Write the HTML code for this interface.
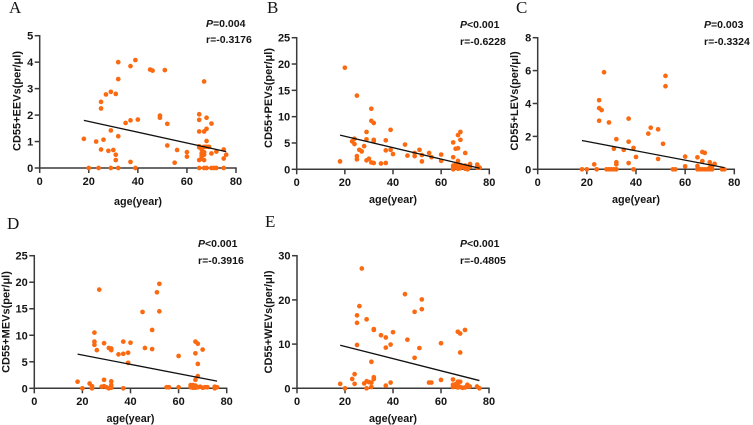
<!DOCTYPE html>
<html lang="en">
<head>
<meta charset="utf-8">
<title>CD55+ EVs versus age</title>
<style>
html,body{margin:0;padding:0;background:#fff;width:753px;height:425px;overflow:hidden}
svg{display:block}
text{font-family:"Liberation Sans",Arial,sans-serif;font-weight:700;fill:#151515}
.letter{font-family:"Liberation Serif",serif;font-weight:400;font-size:17px}
.tick{font-size:11px}
.xtitle{font-size:10.8px}
.ytitle{font-size:11px}
.stat{font-size:10.5px}
</style>
</head>
<body>
<svg id="chart" width="753" height="425" viewBox="0 0 753 425" xmlns="http://www.w3.org/2000/svg"></svg>
<script>
const xTickLabels = [0, 20, 40, 60, 80];

const ticksA = [0, 1, 2, 3, 4, 5];
const ageA = [18,20,23,24,25,25,25,26,27,28,29,29,29,30,31,31,31,32,32,32,32,35,37,37,37,39,39,40,45,46,49,49,51,52,52,55,56,60,60,65,65,65,65,65,65,65,66,66,66,66,67,67,67,67,67,67,67,68,68,68,68,68,69,70,70,70,71,72,72,75,75,75,76];
const valA = [1.1,0,1.0,0,0.7,2.25,2.5,1.07,2.78,0.65,2.88,1.42,0,0.68,2.8,0.5,0.3,4.0,3.36,1.2,0,1.7,3.85,1.8,0.23,4.08,0,1.83,3.72,3.68,1.98,1.9,3.7,1.67,0.85,0.2,0.68,0.6,0.43,2.03,1.82,1.38,0.82,0.78,0.3,0,0.7,0.55,0.45,0.35,3.27,1.38,0.8,0.6,0.5,0.3,0,1.9,1.48,1.02,0.8,0,0.8,1.68,0.55,0,0,0.62,0,0.7,0.36,0,0.5];
const fitAgeA = [18, 76];
const fitValA = [1.8, 0.62];

const ticksB = [0, 5, 10, 15, 20, 25];
const ageB = [18,20,23,24,24,25,25,25,26,27,28,29,29,29,30,31,31,31,32,32,32,32,35,37,37,37,39,39,40,45,46,49,49,51,52,52,55,56,60,60,65,65,65,65,65,66,66,66,67,67,67,67,67,67,68,68,68,68,69,70,70,70,71,71,72,72,75,75,76];
const valB = [1.5,19.3,5.3,5.8,4.8,14,2.5,1.9,3.7,3.4,4.4,7.1,5.7,1.7,2,11.5,9.2,1.3,8.8,5.6,5.3,1.2,1.1,5.5,3.6,1.2,7.5,3.7,2.9,4.7,2.6,3.1,2.5,3.7,2.7,1.5,3.1,2.3,2.8,1.6,5.1,2.3,0.7,0.4,0,3.9,0.9,0.5,6.5,4,1.6,1,0.5,0.1,7.1,5.6,0.8,0.2,0.5,3.1,0.7,0.1,0.5,0,1,0.5,0.9,0.3,0.3];
const fitAgeB = [18, 76];
const fitValB = [6.5, 0.2];

const ticksC = [0, 2, 4, 6, 8];
const ageC = [18,20,23,24,25,25,25,26,27,28,29,29,30,31,31,32,32,32,32,35,37,37,37,39,39,40,45,46,49,49,51,52,52,55,56,60,60,65,65,65,66,67,67,67,68,68,69,70,70,70,71,71,72,75,76];
const valC = [0,0,0.3,0,4.2,3.72,2.95,3.6,5.9,0,2.85,0,0,1.25,0,1.83,0.43,0.3,0,1.18,3.08,1.68,0.38,1.3,0,0.75,2.17,2.53,2.43,0.63,1.55,5.68,5.05,0,0,0.77,0.18,0.73,0.2,0,0,1.05,0.5,0,1.0,0,0,0.43,0.1,0,0.2,0,0.33,0,0];
const fitAgeC = [18, 76];
const fitValC = [1.75, 0.1];

const ticksD = [0, 5, 10, 15, 20, 25];
const ageD = [18,20,23,24,24,25,25,25,26,27,28,29,29,29,30,31,31,32,32,32,32,32,35,37,37,37,39,39,40,45,46,49,49,51,52,52,55,56,60,60,65,65,66,66,67,67,67,67,67,68,68,68,68,69,70,70,71,72,75,75,76];
const valD = [1.25,0,0.9,0.4,0,10.5,8.8,8.2,7.2,18.6,0.3,8.5,1.6,0.4,0.2,7.6,0,7.5,7.2,1.3,0.6,0.1,6.4,8.8,6.5,0,6.7,4.8,8.6,14.4,7.6,11,7.4,18.1,19.7,14.5,0.2,0.2,6.1,0.2,0.6,0.2,0.6,0.1,8.8,6.6,1.6,0.5,0.1,8.4,4.6,2.3,0.2,0.3,7.3,0.1,0.2,0.2,0.3,0,0.2];
const fitAgeD = [18, 76];
const fitValD = [6.45, 1.35];

const ticksE = [0, 10, 20, 30];
const ageE = [18,20,23,24,24,25,25,25,26,27,28,29,29,29,30,31,31,31,32,32,32,32,35,37,37,37,39,39,40,45,46,49,49,51,52,52,55,56,60,60,65,65,65,66,66,67,67,67,67,68,68,68,68,69,70,70,71,71,72,75,76];
const valE = [1,0,2.1,3.2,1,16.5,14.8,9.8,18.6,27.1,1.1,15.6,1.6,0,1.4,6,1.3,0.3,13.4,13.2,2.5,2.1,12,11.5,9.2,0.6,9.9,1.3,12.7,21.3,11,17.3,6.9,9.1,20.1,17.9,1.3,1.3,10.2,1.9,2,0.8,0.3,0.9,0.4,12.8,1.5,0.7,0.2,12.4,8.1,1.5,0.3,0.1,13.2,0.2,0.8,0.4,0.4,0.4,0];
const fitAgeE = [18, 76];
const fitValE = [9.75, 1.75];

const NS = 'http://www.w3.org/2000/svg';
const root = document.getElementById('chart');

function add(parent, tag, attrs, text) {
  const el = document.createElementNS(NS, tag);
  for (const k in attrs) el.setAttribute(k, attrs[k]);
  if (text !== undefined) el.textContent = text;
  parent.appendChild(el);
  return el;
}

function drawPanel(o) {
  const g = add(root, 'g', {});
  
  
  const yMax = o.yTicks[o.yTicks.length - 1];
  const xMax = xTickLabels[xTickLabels.length - 1];
  const sx = v => o.x0 + (v / xMax) * (o.x1 - o.x0);
  const sy = v => o.y0 - (v / yMax) * (o.y0 - o.y1);

  const letter = add(g, 'text', {class: 'letter', x: o.lx, y: o.ly}, o.letter);
  
  

  const xAxis = add(g, 'g', {});
  
  
  add(xAxis, 'line', {x1: o.x0 - 0.7, y1: o.y0, x2: o.x1 + 0.7, y2: o.y0, stroke: '#3a3a3a', 'stroke-width': 1.5});
  xTickLabels.forEach(t => {
    add(xAxis, 'line', {x1: sx(t), y1: o.y0, x2: sx(t), y2: o.y0 + 5, stroke: '#3a3a3a', 'stroke-width': 1.5});
    const lab = add(xAxis, 'text', {class: 'tick', x: sx(t), y: o.y0 + 16.8, 'text-anchor': 'middle'}, t);
    
    
  });

  const yAxis = add(g, 'g', {});
  
  
  add(yAxis, 'line', {x1: o.x0, y1: o.y0, x2: o.x0, y2: o.y1 - 0.7, stroke: '#3a3a3a', 'stroke-width': 1.5});
  o.yTicks.forEach(t => {
    add(yAxis, 'line', {x1: o.x0 - 5, y1: sy(t), x2: o.x0, y2: sy(t), stroke: '#3a3a3a', 'stroke-width': 1.5});
    const lab = add(yAxis, 'text', {class: 'tick', x: o.x0 - 6.5, y: sy(t) + 4, 'text-anchor': 'end'}, t);
    
    
  });

  const pts = add(g, 'g', {});
  
  
  o.age.forEach((a, i) => {
    const c = add(pts, 'circle', {cx: sx(a), cy: sy(o.val[i]), r: 2.35, fill: '#fb6a10'});
    
    
  });

  const fit = add(g, 'line', {x1: sx(o.fitAge[0]), y1: sy(o.fitVal[0]), x2: sx(o.fitAge[1]), y2: sy(o.fitVal[1]), stroke: '#111', 'stroke-width': 1.3});
  
  

  const xt = add(g, 'text', {class: 'xtitle', x: o.xtx, y: o.xty, 'text-anchor': 'middle'}, 'age(year)');
  
  

  const yt = add(g, 'text', {class: 'ytitle', 'text-anchor': 'middle', transform: 'translate(' + o.ytx + ',' + o.yty + ') rotate(-90)'}, o.yTitle);
  
  

  const p = add(g, 'text', {class: 'stat', x: o.sx, y: o.py});
  
  
  add(p, 'tspan', {'font-style': 'italic'}, 'P');
  add(p, 'tspan', {}, o.p);

  const r = add(g, 'text', {class: 'stat', x: o.sx, y: o.ry}, o.r);
  
  
}

drawPanel({letter:'A', lx:9, ly:13, x0:39.7, x1:236, y0:168, y1:35.7, yTicks:ticksA, age:ageA, val:valA, fitAge:fitAgeA, fitVal:fitValA, yTitle:'CD55+EEVs(per/μl)', xtx:138, xty:205, ytx:20.5, yty:101, sx:206, py:27, ry:43, p:'=0.004', r:'r=-0.3176'});
drawPanel({letter:'B', lx:267, ly:13, x0:296.7, x1:489.3, y0:169.3, y1:37.7, yTicks:ticksB, age:ageB, val:valB, fitAge:fitAgeB, fitVal:fitValB, yTitle:'CD55+PEVs(per/μl)', xtx:393, xty:203, ytx:272, yty:98, sx:460, py:28, ry:45, p:'<0.001', r:'r=-0.6228'});
drawPanel({letter:'C', lx:516, ly:13, x0:537.7, x1:734.3, y0:169.3, y1:37.7, yTicks:ticksC, age:ageC, val:valC, fitAge:fitAgeC, fitVal:fitValC, yTitle:'CD55+LEVs(per/μl)', xtx:636, xty:203, ytx:518, yty:101, sx:704, py:28, ry:45, p:'=0.003', r:'r=-0.3324'});
drawPanel({letter:'D', lx:7, ly:229, x0:34.3, x1:226.7, y0:388.3, y1:255.7, yTicks:ticksD, age:ageD, val:valD, fitAge:fitAgeD, fitVal:fitValD, yTitle:'CD55+MEVs(per/μl)', xtx:130.5, xty:422, ytx:9.5, yty:322, sx:198, py:247, ry:264, p:'<0.001', r:'r=-0.3916'});
drawPanel({letter:'E', lx:265, ly:227, x0:297, x1:489, y0:388.3, y1:255.7, yTicks:ticksE, age:ageE, val:valE, fitAge:fitAgeE, fitVal:fitValE, yTitle:'CD55+WEVs(per/μl)', xtx:393, xty:422, ytx:272, yty:322, sx:460, py:247, ry:264, p:'<0.001', r:'r=-0.4805'});
</script>
</body>
</html>
